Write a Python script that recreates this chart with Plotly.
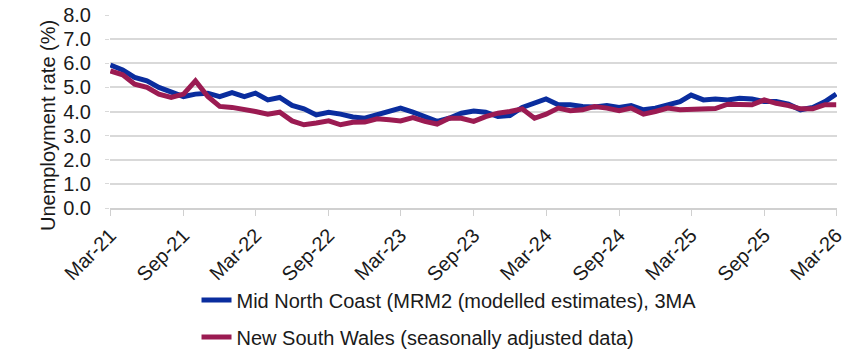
import pandas as pd
import plotly.graph_objects as go

months = pd.date_range("2021-03-01", "2026-03-01", freq="MS")

mid_north_coast = [
    5.93, 5.72, 5.41, 5.27, 5.00, 4.80, 4.62, 4.72, 4.76, 4.62,
    4.78, 4.62, 4.76, 4.48, 4.58, 4.25, 4.11, 3.86, 3.97, 3.89,
    3.77, 3.72, 3.86, 3.97, 4.14, 3.97, 3.79, 3.59, 3.72, 3.93,
    4.02, 3.97, 3.79, 3.83, 4.17, 4.34, 4.52, 4.28, 4.28, 4.21,
    4.19, 4.25, 4.17, 4.25, 4.07, 4.14, 4.28, 4.41, 4.68, 4.48,
    4.52, 4.48, 4.55, 4.52, 4.41, 4.41, 4.30, 4.07, 4.17, 4.41,
    4.72,
]
nsw = [
    5.68, 5.52, 5.13, 5.00, 4.72, 4.58, 4.72, 5.27, 4.62, 4.21,
    4.17, 4.10, 4.00, 3.89, 3.97, 3.61, 3.45, 3.52, 3.61, 3.45,
    3.55, 3.56, 3.70, 3.66, 3.61, 3.75, 3.59, 3.48, 3.72, 3.72,
    3.59, 3.79, 3.93, 4.00, 4.11, 3.72, 3.89, 4.14, 4.03, 4.07,
    4.21, 4.14, 4.03, 4.14, 3.89, 4.00, 4.14, 4.07, 4.07, 4.07,
    4.12, 4.30, 4.28, 4.28, 4.48, 4.34, 4.25, 4.11, 4.11, 4.28,
    4.28,
]
series_names = [
    "Mid North Coast (MRM2 (modelled estimates), 3MA",
    "New South Wales (seasonally adjusted data)",
]
y_title = "Unemployment rate (%)"
y_ticks = [0, 1, 2, 3, 4, 5, 6, 7, 8]
x_ticks = list(months[::6])

BLUE = "#0a2d9e"
MAROON = "#9b1b52"
TEXT = "#1a1a1a"
FONT = "Liberation Sans, Arial, sans-serif"

fig = go.Figure()
fig.add_trace(go.Scatter(x=months, y=mid_north_coast, mode="lines",
                         name=series_names[0], legendgroup="a",
                         line=dict(color=BLUE, width=5)))
fig.add_trace(go.Scatter(x=months, y=nsw, mode="lines",
                         name=series_names[1], legendgroup="b",
                         line=dict(color=MAROON, width=5)))

fig.add_annotation(text=y_title, textangle=-90, xref="paper", yref="paper",
                   x=0, y=0.425, xanchor="center", yanchor="middle",
                   xshift=-62, showarrow=False,
                   font=dict(size=20, color=TEXT, family=FONT))

fig.update_layout(
    width=846, height=352,
    margin=dict(l=110, r=9, t=15, b=144, autoexpand=False),
    plot_bgcolor="white", paper_bgcolor="white",
    font=dict(family=FONT, size=20, color=TEXT),
    showlegend=True,
    legend=dict(x=0.119, xanchor="left", y=-0.376, yanchor="top",
                orientation="v", tracegroupgap=8,
                font=dict(size=20, color=TEXT), bgcolor="rgba(0,0,0,0)"),
    xaxis=dict(
        range=[pd.Timestamp("2021-02-28"), pd.Timestamp("2026-03-03")],
        tickvals=x_ticks, tickformat="%b-%y", automargin=False,
        ticklabeloverflow="allow",
        tickangle=-45, ticks="outside", ticklen=6, tickcolor="#d0d0d0",
        showgrid=False, showline=True, linecolor="#d0d0d0", linewidth=1.5,
        tickfont=dict(size=20, color=TEXT), zeroline=False,
    ),
    yaxis=dict(
        range=[0, 8], tickvals=y_ticks, automargin=False,
        ticktext=[f"{v:.1f}" for v in y_ticks],
        showgrid=True, gridcolor="#d9d9d9", gridwidth=1.5,
        zeroline=False, showline=False,
        ticks="outside", ticklen=4, tickcolor="#d9d9d9",
        ticklabelstandoff=10,
        tickfont=dict(size=20, color=TEXT),
    ),
)

fig.write_html("out.html", config={"displayModeBar": False},
               post_script="document.body.style.margin='0';")
